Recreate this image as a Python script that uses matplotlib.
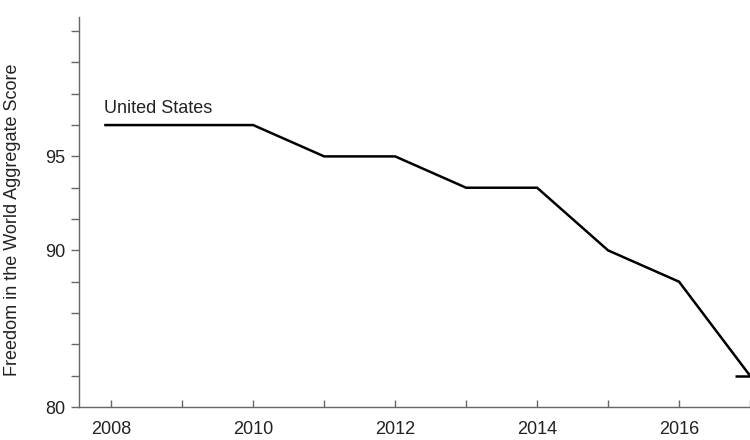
import matplotlib
matplotlib.use("Agg")
import matplotlib.pyplot as plt
from matplotlib.lines import TICKLEFT

plt.rcParams['font.family'] = ['Liberation Sans', 'DejaVu Sans']

# Data
years = [2007.9, 2009, 2010, 2011, 2012, 2013, 2014, 2015, 2016, 2017]
scores = [94, 94, 94, 93, 93, 92, 92, 90, 89, 86]
series_label = "United States"

# Axis ticks (labels as printed on the chart)
x_major = [2008, 2010, 2012, 2014, 2016]
x_minor = [2009, 2011, 2013, 2015, 2017]
y_tick_pos = list(range(85, 98))
y_tick_labels = {85: "80", 90: "90", 93: "95"}

fig = plt.figure(figsize=(7.5, 4.4), dpi=100)
ax = fig.add_axes([79/750, 33/440, 671/750, 390/440])

ax.plot(years, scores, color='black', lw=1.8, clip_on=False,
        solid_joinstyle='miter', solid_capstyle='butt',
        marker=TICKLEFT, markevery=[len(years) - 1], markersize=11,
        markeredgewidth=1.8, markeredgecolor='black')

ax.text(years[0], scores[0] + 0.27, series_label, fontsize=13,
        color='#222222', ha='left', va='bottom')

ax.set_xlim(2007.545, 2017.0)
ax.set_ylim(85, 97.45)

ax.set_xticks(x_major)
ax.set_xticks(x_minor, minor=True)
ax.set_xticklabels([str(y) for y in x_major])
ax.set_yticks(y_tick_pos)
ax.set_yticklabels([y_tick_labels.get(v, "") for v in y_tick_pos])

for s in ['top', 'right']:
    ax.spines[s].set_visible(False)
for s in ['left', 'bottom']:
    ax.spines[s].set_color('#666666')
    ax.spines[s].set_linewidth(1.0)

ax.tick_params(axis='x', which='both', direction='in', length=5,
               color='#666666', width=1.0, labelsize=13, pad=10,
               labelcolor='#222222')
ax.tick_params(axis='y', which='both', direction='out', length=6,
               color='#666666', width=1.0, labelsize=13, pad=4,
               labelcolor='#222222')

ax.set_ylabel("Freedom in the World Aggregate Score", fontsize=13,
              color='#222222')
ax.yaxis.set_label_coords(-0.086, 0.479)

fig.savefig("out.png", dpi=100)
